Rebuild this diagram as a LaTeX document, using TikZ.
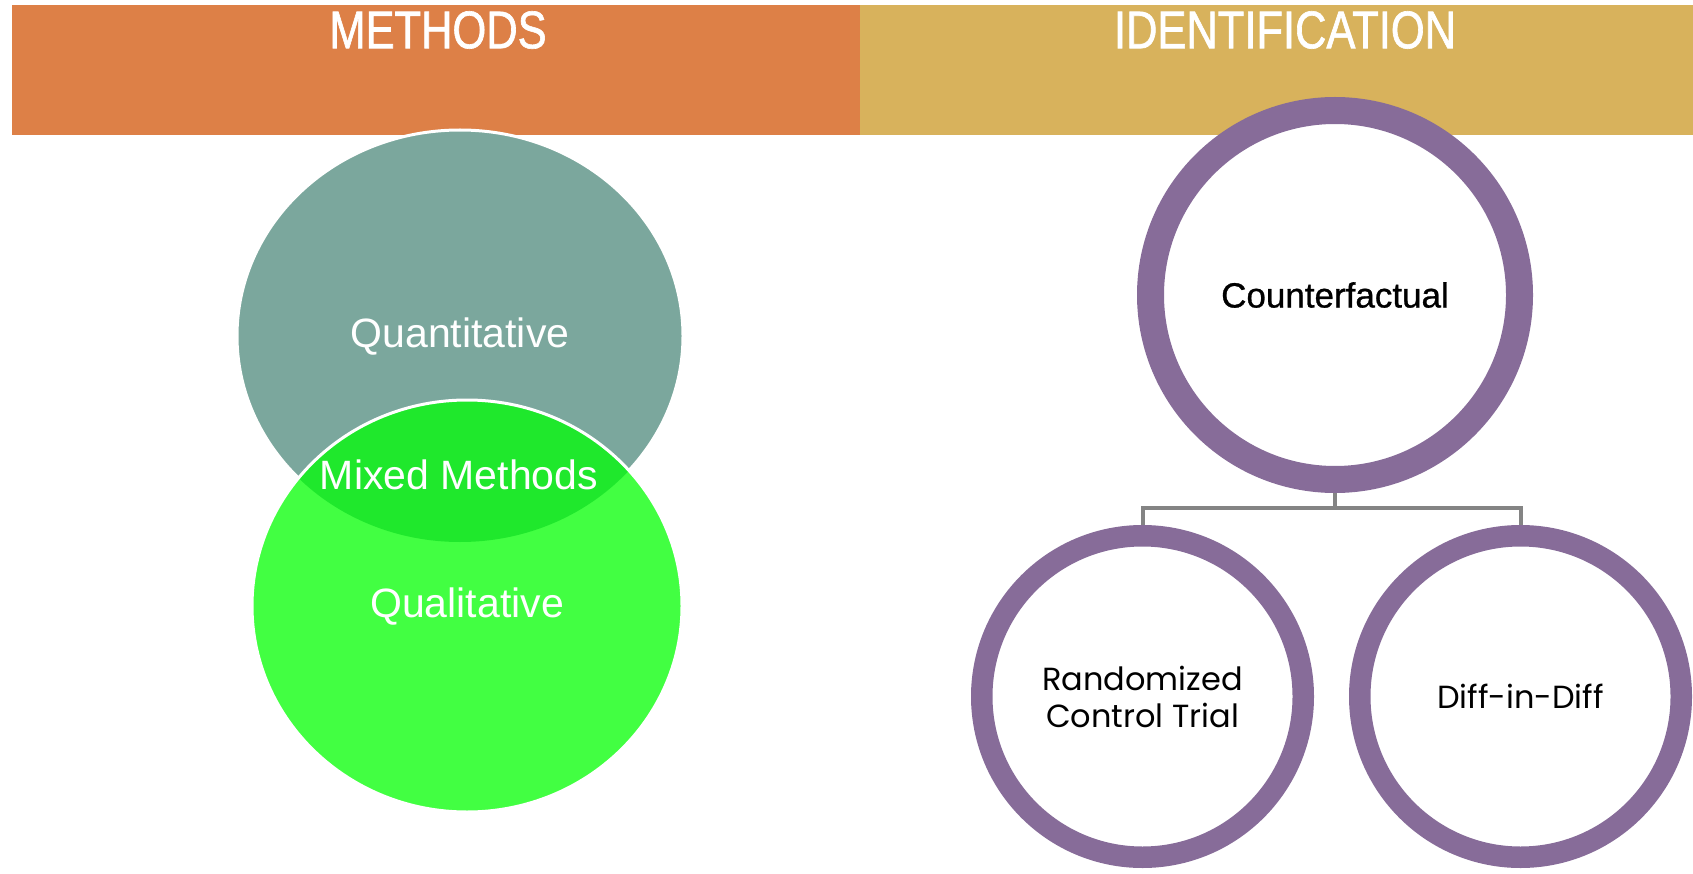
\documentclass[tikz,border=0pt]{standalone}
\usepackage{fontspec}
\setmainfont{Liberation Sans}
\newfontfamily\headfont[FakeStretch=0.82,FakeBold=1.2]{Liberation Sans}
\newfontfamily\cffont[FakeBold=0.8]{Liberation Sans}
\newfontfamily\roundfont{Poppins}
\definecolor{hdorange}{HTML}{DD8047}
\definecolor{hdgold}{HTML}{D8B25C}
\definecolor{quantcol}{HTML}{7BA79D}
\definecolor{qualcol}{HTML}{42FF42}
\definecolor{mixcol}{HTML}{1FE82C}
\definecolor{ringcol}{HTML}{876C99}
\definecolor{linkcol}{HTML}{848484}

\begin{document}
\begin{tikzpicture}[x=1pt, y=-1pt]
		\tikzset{hd/.style={text=white, font=\headfont\fontsize{53}{60}\selectfont},
			lbl/.style={text=white, font=\fontsize{41}{46}\selectfont},
			nd/.style={circle, draw=ringcol, fill=white, line width=27pt, minimum size=369pt, outer sep=13.5pt, align=center},
			sm/.style={nd, line width=21.5pt, minimum size=321.5pt, outer sep=10.75pt, font=\roundfont\fontsize{32}{37}\selectfont}};
		\useasboundingbox (0,0) rectangle (1693,874);
		\clip (0,0) rectangle (1693,874);

		\fill[hdorange] (12,5) rectangle (860,135);
		\fill[hdgold] (860,5) rectangle (1693,135);
		\node[hd] (methods) at (438,30) {METHODS};
		\node[hd] (ident) at (1285,30) {IDENTIFICATION};

		\filldraw[fill=quantcol, draw=white, line width=3pt] (460,336) ellipse [x radius=223, y radius=206];
		\fill[qualcol] (467,606) ellipse [x radius=215, y radius=206];
		\begin{scope}
			\clip (460,336) ellipse [x radius=223, y radius=206];
			\fill[mixcol] (467,606) ellipse [x radius=215, y radius=206];
		\end{scope}
		\draw[white, line width=3pt] (467,606) ellipse [x radius=215, y radius=206];

		\node[lbl] (quant) at (460,337) {Quantitative};
		\node[lbl] (mixed) at (459,475) {Mixed Methods};
		\node[lbl] (qual) at (467,607) {Qualitative};

		\node[nd, font=\cffont\fontsize{35}{40}\selectfont] (cf) at (1335,295) {Counterfactual};
		\node[sm] (rct) at (1142.5,696.5) {Randomized\\Control Trial};
		\node[sm] (did) at (1520.5,696.5) {Diff-in-Diff};

		\draw[linkcol, line width=4pt] (cf.south) -- ++(0,15) -| (rct.north);
		\draw[linkcol, line width=4pt] (cf.south) -- ++(0,15) -| (did.north);

	\end{tikzpicture}
\end{document}
